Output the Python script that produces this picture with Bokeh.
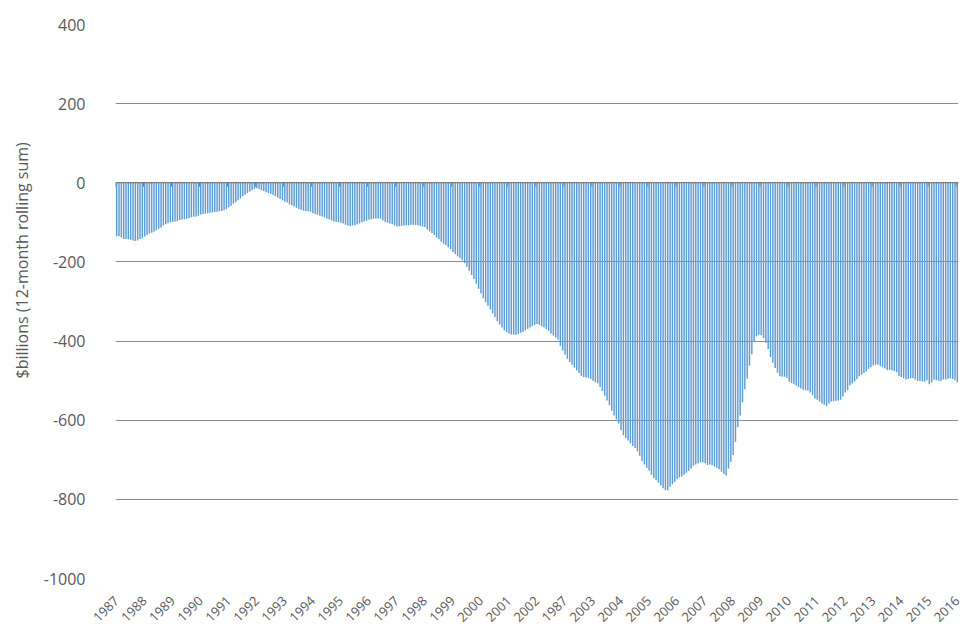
import math
from bokeh.plotting import figure
from bokeh.models import Range1d, FixedTicker, Span, Title, ColumnDataSource
from bokeh.embed import file_html
from bokeh.resources import INLINE

# 12-month rolling sum of the trade balance, $billions, one value per month
y1987 = [-135, -135, -138, -142, -142, -143, -144, -146, -147, -146, -142, -140]
y1988 = [-136, -132, -128, -126, -124, -120, -116, -113, -108, -105, -102, -100]
y1989 = [-99, -98, -97, -94, -93, -92, -91, -89, -87, -86, -85, -83]
y1990 = [-80, -79, -78, -77, -76, -75, -74, -73, -72, -71, -69, -66]
y1991 = [-62, -58, -53, -49, -44, -40, -34, -30, -26, -22, -18, -15]
y1992 = [-14, -16, -19, -21, -23, -26, -28, -31, -34, -38, -41, -44]
y1993 = [-47, -50, -54, -57, -60, -63, -66, -68, -70, -71, -72, -73]
y1994 = [-77, -79, -81, -83, -85, -87, -90, -92, -95, -98, -99, -100]
y1995 = [-101, -103, -106, -108, -109, -108, -107, -105, -103, -100, -98, -96]
y1996 = [-93, -92, -91, -90, -90, -91, -95, -99, -101, -103, -105, -108]
y1997 = [-110, -110, -109, -108, -107, -107, -106, -106, -106, -107, -109, -111]
y1998 = [-112, -118, -123, -127, -132, -138, -143, -149, -154, -158, -163, -168]
y1999 = [-175, -180, -186, -191, -196, -203, -212, -222, -233, -243, -255, -268]
y2000 = [-280, -292, -302, -311, -320, -330, -340, -350, -358, -366, -373, -378]
y2001 = [-381, -383, -384, -384, -382, -379, -377, -373, -369, -366, -362, -359]
y2002 = [-357, -359, -363, -366, -370, -374, -381, -386, -391, -396, -412, -424]
y2003 = [-434, -445, -453, -460, -467, -474, -481, -488, -491, -492, -493, -496]
y2004 = [-500, -504, -507, -516, -526, -538, -550, -562, -576, -588, -598, -608]
y2005 = [-625, -638, -645, -651, -658, -665, -670, -679, -690, -703, -712, -720]
y2006 = [-727, -738, -746, -752, -758, -765, -772, -777, -777, -768, -762, -756]
y2007 = [-749, -745, -742, -738, -733, -728, -722, -715, -712, -709, -706, -706]
y2008 = [-709, -713, -712, -714, -717, -720, -724, -730, -736, -740, -722, -705]
y2009 = [-688, -655, -618, -588, -555, -522, -495, -462, -433, -400, -388, -384]
y2010 = [-385, -392, -404, -420, -440, -455, -468, -480, -489, -490, -490, -493]
y2011 = [-503, -506, -509, -513, -516, -520, -523, -524, -525, -530, -536, -545]
y2012 = [-548, -553, -558, -561, -564, -558, -553, -552, -551, -550, -548, -540]
y2013 = [-530, -524, -512, -507, -502, -496, -489, -485, -481, -477, -470, -466]
y2014 = [-462, -460, -459, -463, -466, -469, -473, -473, -474, -476, -479, -488]
y2015 = [-491, -494, -497, -496, -494, -494, -497, -501, -501, -502, -503, -499]
y2016 = [-509, -505, -497, -499, -500, -501, -497, -497, -495, -494, -496, -499]
y2017 = [-504]

values = (y1987 + y1988 + y1989 + y1990 + y1991 + y1992 + y1993 + y1994 + y1995
          + y1996 + y1997 + y1998 + y1999 + y2000 + y2001 + y2002 + y2003 + y2004
          + y2005 + y2006 + y2007 + y2008 + y2009 + y2010 + y2011 + y2012 + y2013
          + y2014 + y2015 + y2016 + y2017)

# category labels shown every 12 months (as printed on the original chart)
year_labels = ["1987", "1988", "1989", "1990", "1991", "1992", "1993", "1994",
               "1995", "1996", "1997", "1998", "1999", "2000", "2001", "2002",
               "1987", "2003", "2004", "2005", "2006", "2007", "2008", "2009",
               "2010", "2011", "2012", "2013", "2014", "2015", "2016"]

y_ticks = [400, 200, 0, -200, -400, -600, -800, -1000]
y_tick_labels = ["400", "200", "0", "-200", "-400", "-600", "-800", "-1000"]

n = len(values)
idx = list(range(n))
label_pos = list(range(0, n, 12))
src = ColumnDataSource(dict(x=idx, top=values))

TEXT = "#595959"
FONT = "Open Sans"

p = figure(width=962, height=628, output_backend="svg", toolbar_location=None,
           x_range=Range1d(-0.5, n - 0.5), y_range=Range1d(-1000, 400))
p.min_border_left = 115
p.min_border_right = 4
p.min_border_top = 24
p.min_border_bottom = 49
p.outline_line_color = None
p.background_fill_color = "white"
p.border_fill_color = "white"

p.vbar(x="x", top="top", bottom=0, width=0.62, source=src,
       fill_color="#5B9BD5", line_color=None)

# zero line with small year tick marks
p.add_layout(Span(location=0, dimension="width", line_color="#7a7a7a", line_width=1))
tick_x = [i - 0.5 for i in label_pos]
p.segment(x0=tick_x, x1=tick_x, y0=[0] * len(tick_x), y1=[-10] * len(tick_x),
          line_color="#7a7a7a", line_width=1)

p.xgrid.visible = False
p.ygrid.grid_line_color = "#8c8c8c"
p.ygrid.grid_line_width = 1
p.ygrid.ticker = FixedTicker(ticks=y_ticks)

p.yaxis.ticker = FixedTicker(ticks=y_ticks)
p.yaxis.major_label_overrides = {t: s for t, s in zip(y_ticks, y_tick_labels)}
p.yaxis.axis_line_color = None
p.yaxis.major_tick_line_color = None
p.yaxis.minor_tick_line_color = None
p.yaxis.major_label_standoff = 24
p.yaxis.major_label_text_font = FONT
p.yaxis.major_label_text_font_size = "16px"
p.yaxis.major_label_text_color = TEXT

p.xaxis.ticker = FixedTicker(ticks=label_pos)
p.xaxis.major_label_overrides = {pos: lab for pos, lab in zip(label_pos, year_labels)}
p.xaxis.major_label_orientation = math.pi / 4
p.xaxis.axis_line_color = None
p.xaxis.major_tick_line_color = None
p.xaxis.minor_tick_line_color = None
p.xaxis.major_label_standoff = 14
p.xaxis.major_label_text_font = FONT
p.xaxis.major_label_text_font_size = "13px"
p.xaxis.major_label_text_color = TEXT

p.add_layout(Title(text="$billions (12-month rolling sum)", align="left",
                   offset=200, standoff=15, text_font=FONT, text_font_size="16px",
                   text_font_style="normal", text_color=TEXT), "left")

open("out.html", "w").write(file_html(p, INLINE))
